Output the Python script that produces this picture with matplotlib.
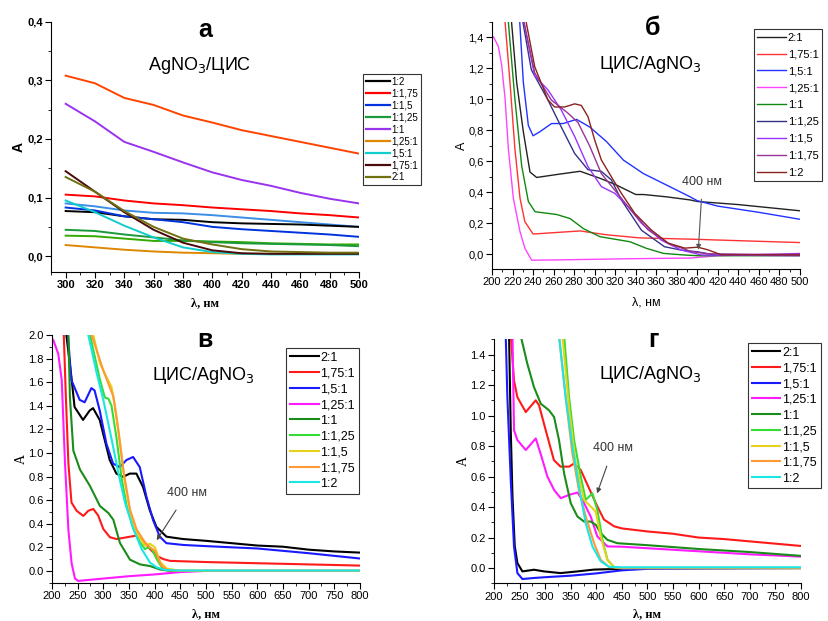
import matplotlib
matplotlib.use("Agg")
import matplotlib.pyplot as plt
from matplotlib.ticker import MultipleLocator, FuncFormatter

plt.rcParams["font.family"] = ["Liberation Sans", "DejaVu Sans"]

# ── panel а: AgNO3/ЦИС, 300–500 nm ────────────────────────────────
A_X = [300, 320, 340, 360, 380, 400, 420, 440, 460, 480, 500]
A_LABELS = ["1:2", "1:1,75", "1:1,5", "1:1,25", "1:1", "1,25:1", "1,5:1", "1,75:1", "2:1"]
A_COLORS = ["#000000", "#ff0000", "#0033dd", "#1a9a3a", "#9933ee", "#dd8800", "#11cccc", "#4a0a0a", "#707010"]
A_SERIES = [
    [0.077, 0.075, 0.068, 0.063, 0.062, 0.058, 0.056, 0.055, 0.054, 0.052, 0.050],
    [0.105, 0.102, 0.095, 0.090, 0.087, 0.083, 0.080, 0.077, 0.073, 0.070, 0.066],
    [0.083, 0.078, 0.068, 0.063, 0.058, 0.050, 0.046, 0.043, 0.040, 0.037, 0.033],
    [0.045, 0.043, 0.037, 0.032, 0.027, 0.024, 0.022, 0.021, 0.020, 0.019, 0.017],
    [0.260, 0.230, 0.195, 0.178, 0.160, 0.143, 0.130, 0.120, 0.108, 0.098, 0.090],
    [0.019, 0.015, 0.011, 0.008, 0.006, 0.005, 0.004, 0.004, 0.004, 0.004, 0.004],
    [0.095, 0.075, 0.052, 0.032, 0.015, 0.007, 0.004, 0.003, 0.003, 0.003, 0.003],
    [0.145, 0.110, 0.075, 0.045, 0.023, 0.010, 0.005, 0.004, 0.004, 0.004, 0.004],
    [0.135, 0.110, 0.077, 0.050, 0.030, 0.020, 0.012, 0.008, 0.007, 0.006, 0.006],
]
# curves drawn in panel а that have no legend entry
A_EXTRA_COLORS = ["#ff4400", "#3a8ee6", "#33aa00"]
A_EXTRA = [
    [0.308, 0.295, 0.270, 0.258, 0.240, 0.228, 0.215, 0.205, 0.195, 0.185, 0.175],
    [0.090, 0.085, 0.078, 0.074, 0.073, 0.070, 0.066, 0.062, 0.058, 0.054, 0.050],
    [0.035, 0.034, 0.030, 0.026, 0.026, 0.025, 0.024, 0.022, 0.021, 0.020, 0.020],
]

# ── panel б: ЦИС/AgNO3, 200–500 nm ────────────────────────────────
B_LABELS = ["2:1", "1,75:1", "1,5:1", "1,25:1", "1:1", "1:1,25", "1:1,5", "1:1,75", "1:2"]
B_COLORS = ["#222222", "#ff3333", "#2233ff", "#ff44ff", "#118811", "#333388", "#9933ff", "#993399", "#8b2222"]
B_SERIES = [
    [(215, 2.0), (219, 1.5), (224, 1.11), (230.5, 0.79), (237, 0.53), (243.5, 0.495), (263, 0.514),
     (285.8, 0.535), (305, 0.49), (320, 0.45), (328, 0.424), (340, 0.385), (347.5, 0.385), (370, 0.37),
     (393, 0.35), (400, 0.34), (440, 0.32), (470, 0.30), (500, 0.28)],
    [(210, 2.0), (212.7, 1.5), (217.5, 1.11), (222.3, 0.68), (227.3, 0.36), (232, 0.21), (240, 0.13),
     (263, 0.14), (285.8, 0.15), (311.7, 0.125), (344, 0.105), (393, 0.097), (450, 0.085), (500, 0.075)],
    [(225, 2.0), (227, 1.5), (230.5, 1.11), (235.4, 0.83), (240, 0.764), (246.6, 0.79), (258, 0.843),
     (269.3, 0.843), (282.3, 0.87), (295.3, 0.82), (311.6, 0.726), (328, 0.607), (347.5, 0.52),
     (370, 0.446), (393, 0.37), (400, 0.345), (420, 0.31), (460, 0.27), (500, 0.225)],
    [(200, 1.40), (201.3, 1.404), (206.2, 1.34), (209.4, 1.22), (212.7, 1.006), (215.9, 0.683),
     (220.8, 0.36), (227.3, 0.144), (232.1, 0.037), (238.6, -0.039), (263, -0.037), (328, -0.03),
     (393, -0.025), (420, -0.01), (500, 0.005)],
    [(213, 2.0), (215.9, 1.5), (222.3, 1.0), (228.9, 0.57), (235.4, 0.34), (241.9, 0.274), (263, 0.256),
     (276, 0.23), (289, 0.165), (305, 0.113), (334.5, 0.08), (350.7, 0.037), (367, 0.005),
     (386.5, -0.005), (400, -0.01), (500, -0.01)],
    [(226, 2.0), (230, 1.5), (238.3, 1.19), (254.5, 0.995), (267.5, 0.82), (280.5, 0.65), (293.5, 0.545),
     (306.5, 0.534), (316.2, 0.48), (326, 0.35), (345.5, 0.155), (368, 0.048), (384.5, 0.026),
     (400.5, 0.015), (417, -0.006), (500, 0.0)],
    [(227, 2.0), (231, 1.5), (241.6, 1.15), (254.5, 1.06), (267.5, 0.93), (280.5, 0.76), (293.5, 0.565),
     (306.5, 0.436), (319.5, 0.393), (332.5, 0.307), (345.5, 0.2), (365, 0.09), (384.5, 0.026),
     (404, -0.005), (500, -0.01)],
    [(227, 2.0), (231, 1.5), (241.6, 1.17), (257.7, 0.995), (274, 0.91), (283.7, 0.85), (295, 0.70),
     (306.5, 0.52), (319.5, 0.414), (332.5, 0.307), (352, 0.157), (371.6, 0.071), (394, 0.017),
     (410, 0.003), (500, -0.005)],
    [(229, 2.0), (233.2, 1.5), (241.6, 1.21), (254.5, 0.995), (261, 0.95), (270.8, 0.95), (280.5, 0.97),
     (287, 0.96), (293.5, 0.887), (300, 0.737), (306.5, 0.608), (316.2, 0.5), (326, 0.393),
     (339, 0.264), (355, 0.157), (371.6, 0.071), (387.8, 0.039), (400.5, 0.045), (410.3, 0.028),
     (423.3, -0.004), (500, -0.005)],
]

# ── panels в and г: ЦИС/AgNO3, 200–800 nm ─────────────────────────
CD_LABELS = ["2:1", "1,75:1", "1,5:1", "1,25:1", "1:1", "1:1,25", "1:1,5", "1:1,75", "1:2"]
CD_COLORS = ["#000000", "#ff1a1a", "#1a1aff", "#ff1aff", "#1a8c1a", "#33dd33", "#e6d21a", "#ff9933", "#1ae6e6"]
C_SERIES = [
    [(226, 2.1), (228, 2.0), (237.7, 1.65), (244, 1.39), (260.5, 1.28), (273.5, 1.36), (280, 1.38),
     (293, 1.28), (312.5, 0.94), (325.5, 0.825), (338.5, 0.797), (351.5, 0.825), (364.5, 0.825),
     (377.5, 0.71), (390.5, 0.515), (403.5, 0.373), (423, 0.29), (455.5, 0.27), (500, 0.255),
     (550, 0.235), (600, 0.215), (650, 0.205), (700, 0.18), (750, 0.165), (800, 0.155)],
    [(222, 2.1), (223, 2.0), (227, 1.48), (232, 0.91), (238, 0.58), (248, 0.51), (261, 0.466),
     (270.8, 0.51), (280.5, 0.525), (290, 0.47), (300, 0.355), (313, 0.285), (326, 0.27),
     (345.6, 0.285), (365, 0.30), (378, 0.255), (391, 0.185), (404, 0.128), (417, 0.10), (430, 0.085),
     (500, 0.075), (600, 0.065), (700, 0.055), (800, 0.045)],
    [(229, 2.1), (231, 2.0), (237.7, 1.62), (254, 1.45), (263.7, 1.43), (276.7, 1.55), (283, 1.53),
     (293, 1.36), (306, 1.08), (319, 0.91), (332, 0.88), (345, 0.94), (358, 0.966), (371, 0.88),
     (384, 0.63), (397, 0.43), (410, 0.29), (423, 0.235), (455.5, 0.22), (500, 0.21), (600, 0.19),
     (700, 0.15), (800, 0.105)],
    [(200, 1.97), (202.6, 1.957), (212.3, 1.84), (219, 1.617), (225.4, 0.911), (232, 0.346),
     (238.3, 0.063), (244.8, -0.065), (251, -0.085), (300, -0.065), (350, -0.045), (400, -0.03),
     (450, -0.01), (500, 0.0), (800, 0.0)],
    [(230, 2.1), (232, 2.0), (235, 1.47), (241.6, 1.02), (254.5, 0.86), (274, 0.72), (293.5, 0.55),
     (310, 0.49), (319.5, 0.434), (332.5, 0.236), (352, 0.095), (371.6, 0.055), (391, 0.041),
     (410.5, 0.012), (430, 0.0), (800, 0.0)],
    [(270, 2.1), (274, 2.0), (293.5, 1.62), (303, 1.47), (310, 1.46), (316, 1.40), (326, 1.12),
     (335.8, 0.78), (345.6, 0.55), (358.6, 0.355), (371.6, 0.24), (381.4, 0.185), (388, 0.20),
     (394.5, 0.185), (404, 0.10), (414, 0.03), (424, 0.01), (450, 0.0), (800, 0.0)],
    [(276, 2.1), (280.5, 2.0), (293.5, 1.76), (306.5, 1.64), (316, 1.56), (322.7, 1.40), (332.5, 1.09),
     (342, 0.75), (355, 0.44), (368, 0.30), (381, 0.215), (391, 0.23), (400.7, 0.20), (410.5, 0.075),
     (423.5, 0.02), (450, 0.0), (800, 0.0)],
    [(274, 2.1), (277.2, 2.0), (300, 1.70), (319.5, 1.48), (329.3, 1.19), (339, 0.855), (352, 0.52),
     (365, 0.35), (381.4, 0.24), (391, 0.20), (400.7, 0.17), (414, 0.04), (426.4, 0.005), (450, 0.0),
     (800, 0.0)],
    [(267, 2.1), (270.8, 2.0), (287, 1.68), (300, 1.45), (316, 1.12), (329.3, 0.83), (342.2, 0.58),
     (358.6, 0.355), (374.8, 0.185), (391, 0.07), (404, 0.03), (420, 0.008), (450, 0.003), (800, 0.003)],
]
D_SERIES = [
    [(228, 2.0), (229.3, 1.525), (232.6, 0.904), (236, 0.47), (240.4, 0.145), (245.6, 0.033),
     (255.4, -0.022), (278, -0.011), (297.8, -0.022), (330, -0.033), (363, -0.022), (395.6, -0.01),
     (448, -0.005), (500, 0.0), (800, 0.0)],
    [(230, 2.0), (232.6, 1.525), (239, 1.23), (245.6, 1.12), (262, 1.023), (281.5, 1.10), (288, 1.067),
     (301, 0.904), (317, 0.708), (330, 0.665), (346.7, 0.665), (356.5, 0.686), (369.5, 0.643),
     (385.8, 0.523), (402, 0.404), (415, 0.318), (434.7, 0.274), (450, 0.26), (500, 0.24),
     (550, 0.225), (600, 0.20), (650, 0.19), (700, 0.175), (750, 0.16), (800, 0.145)],
    [(221, 2.0), (222.8, 1.525), (226, 1.12), (232.6, 0.577), (239, 0.14), (245.6, -0.033),
     (255.4, -0.072), (278, -0.065), (300, -0.06), (350, -0.05), (400, -0.035), (450, -0.015),
     (500, -0.005), (800, 0.0)],
    [(234, 2.0), (236, 1.525), (239, 0.904), (245.6, 0.839), (262, 0.774), (281.5, 0.85), (291, 0.75),
     (304.3, 0.60), (317.4, 0.512), (330.4, 0.458), (346.7, 0.48), (363, 0.495), (372.8, 0.447),
     (389, 0.338), (402, 0.207), (421.7, 0.142), (450, 0.14), (500, 0.13), (600, 0.11), (700, 0.09),
     (800, 0.075)],
    [(245, 2.0), (252, 1.525), (265, 1.34), (278, 1.187), (291.3, 1.078), (307.6, 1.034), (317.4, 0.99),
     (327, 0.839), (337, 0.62), (350, 0.425), (363, 0.338), (376, 0.305), (389, 0.305), (399, 0.283),
     (408.6, 0.229), (421.7, 0.185), (441, 0.163), (500, 0.15), (600, 0.125), (700, 0.105), (800, 0.08)],
    [(334, 2.0), (337, 1.525), (346.7, 1.12), (356.5, 0.839), (369.5, 0.60), (379.3, 0.447),
     (392.3, 0.49), (402, 0.381), (412, 0.185), (421.7, 0.054), (434.7, 0.006), (450, 0.0), (800, 0.0)],
    [(331, 2.0), (333.6, 1.525), (346.7, 1.05), (359.7, 0.687), (376, 0.447), (389, 0.404),
     (398.8, 0.37), (408.6, 0.207), (421.7, 0.054), (434.7, 0.006), (450, 0.0), (800, 0.0)],
    [(324, 2.0), (327, 1.525), (340, 1.12), (353.2, 0.75), (366, 0.51), (379.3, 0.338), (395.6, 0.163),
     (408.6, 0.054), (425, 0.006), (450, 0.0), (800, 0.0)],
    [(324, 2.0), (327, 1.525), (340, 1.12), (353.2, 0.795), (366, 0.534), (379.3, 0.294), (392.3, 0.142),
     (408.6, 0.044), (425, 0.008), (450, 0.005), (800, 0.005)],
]

comma = FuncFormatter(lambda v, _: f"{v:.1f}".replace(".", ","))


def style_axes(ax, xlim, ylim, xmaj, xmin, ymaj, ymin, bold=False, fmt=None):
    ax.set_xlim(*xlim)
    ax.set_ylim(*ylim)
    ax.xaxis.set_major_locator(MultipleLocator(xmaj))
    ax.xaxis.set_minor_locator(MultipleLocator(xmin))
    ax.yaxis.set_major_locator(MultipleLocator(ymaj))
    ax.yaxis.set_minor_locator(MultipleLocator(ymin))
    if fmt is not None:
        ax.yaxis.set_major_formatter(fmt)
    for side in ("top", "right"):
        ax.spines[side].set_visible(False)
    for side in ("left", "bottom"):
        ax.spines[side].set_linewidth(0.8)
    ax.tick_params(which="major", direction="out", length=4, width=0.8, labelsize=8, pad=2)
    ax.tick_params(which="minor", direction="out", length=2, width=0.6)
    if bold:
        for lab in ax.get_xticklabels() + ax.get_yticklabels():
            lab.set_fontweight("bold")


def add_legend(fig, ax, x, y, size, spacing, hlen):
    leg = ax.legend(loc="upper left", bbox_to_anchor=(x, y), bbox_transform=fig.transFigure,
                    fontsize=size, frameon=True, fancybox=False, edgecolor="black",
                    handlelength=hlen, handletextpad=0.15, labelspacing=spacing,
                    borderpad=0.3, borderaxespad=0)
    leg.get_frame().set_linewidth(0.8)
    return leg


def draw_pairs(ax, series, labels, colors, lw):
    for pts, lab, col in zip(series, labels, colors):
        ax.plot([p[0] for p in pts], [p[1] for p in pts], color=col, lw=lw, label=lab)


fig = plt.figure(figsize=(8.29, 6.21), dpi=100)
serif = ["Liberation Serif", "DejaVu Serif"]

# а
ax_a = fig.add_axes([0.0615, 0.562, 0.3715, 0.403])
for ys, col in zip(A_EXTRA, A_EXTRA_COLORS):
    ax_a.plot(A_X, ys, color=col, lw=1.4)
for ys, lab, col in zip(A_SERIES, A_LABELS, A_COLORS):
    ax_a.plot(A_X, ys, color=col, lw=1.4, label=lab)
style_axes(ax_a, (290, 500), (-0.027, 0.4), 20, 10, 0.1, 0.05, bold=True, fmt=comma)
ax_a.set_ylabel("А", fontsize=10, fontweight="bold", labelpad=1)
ax_a.set_xlabel("λ, нм", family=serif, fontsize=9, fontweight="bold", labelpad=5)
ax_a.text(0.5, 0.967, "а", transform=ax_a.transAxes, fontsize=18, fontweight="bold",
          ha="center", va="center")
ax_a.text(0.484, 0.827, "AgNO$_3$/ЦИС", transform=ax_a.transAxes, fontsize=13,
          ha="center", va="center")
leg = add_legend(fig, ax_a, 0.438, 0.881, 7, 0.2, 2.5)
for h in leg.get_lines():
    h.set_linewidth(1.6)

# б
ax_b = fig.add_axes([0.5935, 0.567, 0.3715, 0.398])
draw_pairs(ax_b, B_SERIES, B_LABELS, B_COLORS, 1.0)
style_axes(ax_b, (200, 500), (-0.095, 1.5), 20, 10, 0.2, 0.1, fmt=comma)
ax_b.set_ylabel("А", fontsize=9, labelpad=0)
ax_b.set_xlabel("λ, нм", fontsize=9, labelpad=7)
ax_b.text(0.52, 0.975, "б", transform=ax_b.transAxes, fontsize=18, fontweight="bold",
          ha="center", va="center")
ax_b.text(0.513, 0.825, "ЦИС/AgNO$_3$", transform=ax_b.transAxes, fontsize=13,
          ha="center", va="center")
ax_b.annotate("400 нм", xy=(401, 0.03), xytext=(405, 0.465), fontsize=9, color="#333333",
              ha="center", va="center",
              arrowprops=dict(arrowstyle="-|>", color="#555555", lw=0.8, mutation_scale=7,
                              shrinkA=6, shrinkB=0))
add_legend(fig, ax_b, 0.9095, 0.953, 8, 0.62, 2.6)

# в
ax_c = fig.add_axes([0.0627, 0.0617, 0.3715, 0.3988])
draw_pairs(ax_c, C_SERIES, CD_LABELS, CD_COLORS, 1.5)
style_axes(ax_c, (200, 800), (-0.1, 2.0), 50, 25, 0.2, 0.1)
ax_c.set_ylabel("А", family=serif, fontsize=10, labelpad=0)
ax_c.set_xlabel("λ, нм", family=serif, fontsize=9, fontweight="bold", labelpad=5)
ax_c.text(0.497, 0.98, "в", transform=ax_c.transAxes, fontsize=18, fontweight="bold",
          ha="center", va="center")
ax_c.text(0.49, 0.838, "ЦИС/AgNO$_3$", transform=ax_c.transAxes, fontsize=13,
          ha="center", va="center")
ax_c.annotate("400 нм", xy=(404, 0.26), xytext=(463, 0.66), fontsize=9, color="#333333",
              ha="center", va="center",
              arrowprops=dict(arrowstyle="-|>", color="#444444", lw=0.8, mutation_scale=7,
                              shrinkA=7, shrinkB=0))
add_legend(fig, ax_c, 0.345, 0.4396, 9, 0.3, 2.3)

# г
ax_d = fig.add_axes([0.596, 0.0607, 0.37, 0.3929])
draw_pairs(ax_d, D_SERIES, CD_LABELS, CD_COLORS, 1.5)
style_axes(ax_d, (200, 800), (-0.1, 1.5), 50, 25, 0.2, 0.1)
ax_d.set_ylabel("А", family=serif, fontsize=10, labelpad=0)
ax_d.set_xlabel("λ, нм", family=serif, fontsize=9, fontweight="bold", labelpad=5)
ax_d.text(0.518, 0.997, "г", transform=ax_d.transAxes, fontsize=18, fontweight="bold",
          ha="center", va="center")
ax_d.text(0.51, 0.854, "ЦИС/AgNO$_3$", transform=ax_d.transAxes, fontsize=13,
          ha="center", va="center")
ax_d.annotate("400 нм", xy=(401.5, 0.49), xytext=(433, 0.786), fontsize=9, color="#333333",
              ha="center", va="center",
              arrowprops=dict(arrowstyle="-|>", color="#444444", lw=0.8, mutation_scale=7,
                              shrinkA=7, shrinkB=0))
add_legend(fig, ax_d, 0.902, 0.448, 9, 0.3, 2.3)

fig.savefig("out.png", dpi=100, facecolor="white")
plt.close(fig)
